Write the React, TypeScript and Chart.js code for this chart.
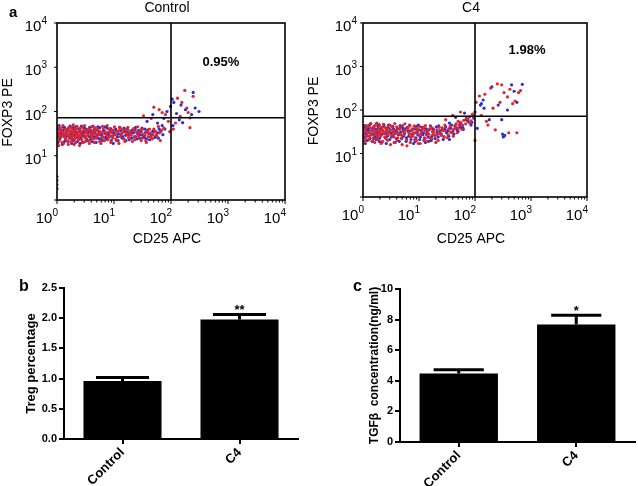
import React, { useEffect, useRef } from "react";
import { Chart, registerables } from "chart.js";

Chart.register(...registerables);

const FONT = '"Liberation Sans", Arial, Helvetica, sans-serif';
const RED = "#e0262c";
const BLUE = "#2a2fd0";

type Pt = [number, number];

// ---------- panel a : flow cytometry (CD25 APC vs FOXP3 PE) ----------
const decadeTicks = [1, 10, 100, 1000, 10000];
const gateCD25 = 100;
const gateFOXP3 = 72;
const controlPct = "0.95%";
const c4Pct = "1.98%";

const controlRed: Pt[] = [
  [1, 30], [1, 38], [1.05, 25], [1.1, 34], [1.1, 22], [1.15, 42], [1.2, 28], [1.25, 35], [1.3, 19], [1.3, 31],
  [1.4, 40], [1.4, 26], [1.5, 33], [1.55, 21], [1.6, 37], [1.7, 29], [1.75, 45], [1.8, 24], [1.9, 32], [2, 18],
  [2, 36], [2.1, 27], [2.2, 41], [2.3, 30], [2.4, 23], [2.5, 34], [2.6, 28], [2.7, 44], [2.8, 20], [3, 31],
  [3.1, 38], [3.2, 25], [3.4, 33], [3.6, 22], [3.8, 40], [4, 29], [4.2, 35], [4.4, 24], [4.6, 43], [4.8, 31],
  [5, 27], [5.3, 37], [5.6, 21], [6, 33], [6.3, 46], [6.6, 26], [7, 35], [7.4, 30], [7.8, 23], [8.2, 40],
  [8.6, 28], [9, 34], [9.5, 25], [10, 38], [10.5, 31], [11, 22], [12, 36], [12.5, 43], [13, 27], [14, 33],
  [15, 24], [16, 39], [17, 30], [18, 26], [19, 36], [20, 29], [22, 41], [23, 23], [25, 34], [27, 28],
  [29, 38], [31, 25], [33, 31], [36, 22], [38, 36], [40, 27], [43, 33], [47, 24], [50, 40], [55, 30],
  [60, 46], [65, 22], [1, 2.2], [1, 2.8],
  [1.03, 45], [1.07, 17], [1.13, 29], [1.17, 37], [1.23, 20], [1.27, 48], [1.33, 27], [1.38, 33], [1.43, 24], [1.48, 39],
  [1.53, 30], [1.58, 18], [1.63, 44], [1.68, 26], [1.73, 35], [1.78, 21], [1.83, 40], [1.88, 28], [1.93, 50], [1.98, 33],
  [2.03, 24], [2.08, 38], [2.13, 20], [2.18, 31], [2.25, 46], [2.35, 26], [2.42, 35], [2.48, 17], [2.55, 42], [2.63, 30],
  [2.72, 23], [2.85, 37], [2.95, 27], [3.05, 48], [3.15, 21], [3.28, 34], [3.45, 29], [3.55, 39], [3.7, 19], [3.85, 33],
  [3.95, 26], [4.1, 45], [4.3, 31], [4.5, 20], [4.7, 37], [4.9, 25], [5.1, 41], [5.4, 30], [5.7, 35], [5.9, 19],
  [6.2, 27], [6.5, 40], [6.8, 22], [7.2, 32], [7.6, 48], [8, 26], [8.4, 34], [8.8, 20], [9.2, 38], [9.7, 29],
  [10.2, 45], [10.8, 24], [11.5, 35], [12.2, 19], [13, 41], [13.5, 30], [14.5, 38], [15.5, 21], [16.5, 33], [17.5, 44],
  [18.5, 25], [19.5, 31], [21, 21], [22.5, 36], [24, 27], [26, 45], [28, 33], [30, 22], [32, 40], [35, 29],
  [37, 20], [39, 33], [42, 40], [45, 26], [48, 30], [53, 36], [57, 27], [63, 33], [68, 38], [75, 42],
  [33, 80], [45, 70], [50, 125], [62, 110], [70, 95], [80, 85], [90, 60], [110, 40], [130, 200], [145, 78],
  [155, 160], [175, 300], [190, 120], [215, 72], [215, 43], [245, 220], [120, 55], [95, 35], [200, 95],
];

const controlBlue: Pt[] = [
  [1, 33], [1.02, 27], [1.08, 40], [1.12, 24], [1.18, 36], [1.22, 30], [1.28, 45], [1.35, 21], [1.45, 34], [1.5, 28],
  [1.6, 42], [1.65, 25], [1.75, 32], [1.85, 38], [1.95, 22], [2.05, 30], [2.15, 35], [2.3, 26], [2.45, 40], [2.55, 19],
  [2.7, 33], [2.9, 28], [3, 43], [3.2, 36], [3.3, 24], [3.5, 31], [3.7, 27], [3.9, 37], [4.1, 21], [4.3, 33],
  [4.5, 39], [4.7, 26], [5, 30], [5.2, 45], [5.5, 34], [5.8, 24], [6.1, 29], [6.5, 38], [6.9, 32], [7.2, 26],
  [7.6, 42], [8, 30], [8.5, 36], [9, 22], [9.4, 28], [10, 33], [10.7, 40], [11.5, 27], [12, 31], [13, 37],
  [14, 25], [15, 42], [16, 29], [17, 34], [18.5, 23], [20, 32], [21, 38], [23, 27], [24, 44], [26, 31],
  [28, 25], [30, 35], [32, 29], [35, 40], [37, 24], [41, 32], [44, 27], [48, 36], [52, 26], [58, 33],
  [62, 40], [70, 48], [1, 1.8], [1, 3.4],
  [1.01, 41], [1.04, 20], [1.06, 31], [1.09, 48], [1.14, 26], [1.19, 33], [1.24, 18], [1.29, 38], [1.32, 29], [1.37, 43],
  [1.42, 23], [1.47, 31], [1.52, 37], [1.57, 21], [1.62, 29], [1.69, 47], [1.72, 34], [1.79, 26], [1.82, 19], [1.89, 43],
  [1.92, 31], [2.02, 39], [2.07, 25], [2.12, 45], [2.2, 33], [2.27, 21], [2.38, 29], [2.5, 37], [2.6, 25], [2.68, 47],
  [2.78, 31], [2.88, 20], [2.98, 35], [3.1, 27], [3.25, 40], [3.4, 22], [3.6, 35], [3.75, 44], [3.9, 24], [4.05, 30],
  [4.25, 47], [4.4, 27], [4.6, 34], [4.85, 20], [5.05, 38], [5.3, 25], [5.6, 43], [5.95, 31], [6.3, 22], [6.7, 36],
  [7, 45], [7.4, 24], [7.8, 33], [8.3, 27], [8.7, 41], [9.2, 34], [9.7, 19], [10.4, 30], [11, 37], [11.8, 22],
  [12.6, 44], [13.4, 31], [14.2, 27], [15.2, 35], [16.2, 22], [17.2, 40], [18, 30], [19.2, 36], [20.5, 25], [22, 33],
  [23.5, 39], [25, 24], [27, 37], [29, 30], [31, 42], [34, 26], [36, 34], [39, 38], [42, 23], [46, 30],
  [50, 35], [55, 29], [60, 25], [66, 36], [72, 30], [78, 40],
  [38, 60], [48, 85], [58, 55], [75, 70], [85, 100], [98, 130], [105, 190], [108, 48], [112, 160], [125, 90],
  [140, 65], [160, 56], [180, 110], [245, 270], [265, 120], [310, 100], [150, 140], [230, 85],
];

const c4Red: Pt[] = [
  [1, 28], [1.05, 36], [1.1, 22], [1.15, 44], [1.2, 31], [1.3, 25], [1.35, 39], [1.45, 19], [1.5, 33], [1.6, 27],
  [1.7, 47], [1.8, 23], [1.9, 35], [2, 29], [2.1, 17], [2.2, 40], [2.3, 32], [2.45, 24], [2.6, 37], [2.75, 20],
  [2.9, 30], [3, 45], [3.2, 26], [3.4, 34], [3.6, 18], [3.8, 29], [4, 41], [4.2, 23], [4.5, 36], [4.8, 27],
  [5, 16], [5.3, 32], [5.6, 48], [6, 21], [6.3, 38], [6.7, 28], [7, 18], [7.4, 34], [7.8, 25], [8.2, 43],
  [8.6, 30], [9, 20], [9.5, 36], [10, 26], [10.5, 17], [11, 31], [12, 40], [12.5, 23], [13, 34], [14, 19],
  [15, 28], [16, 37], [17, 22], [18, 31], [19.5, 26], [21, 35], [22, 20], [24, 30], [26, 39], [28, 24],
  [30, 33], [33, 27], [36, 42], [39, 30], [42, 36], [46, 48], [50, 38], [55, 52],
  [1.02, 38], [1.07, 19], [1.12, 33], [1.17, 26], [1.22, 42], [1.27, 21], [1.32, 30], [1.38, 48], [1.42, 27], [1.47, 36],
  [1.52, 23], [1.57, 41], [1.62, 18], [1.67, 32], [1.72, 28], [1.77, 50], [1.83, 25], [1.87, 38], [1.92, 21], [1.97, 44],
  [2.03, 32], [2.12, 26], [2.18, 36], [2.25, 19], [2.33, 47], [2.4, 29], [2.5, 40], [2.57, 22], [2.68, 33], [2.8, 27],
  [2.95, 37], [3.1, 16], [3.25, 42], [3.45, 30], [3.55, 24], [3.7, 49], [3.9, 35], [4.1, 20], [4.35, 29], [4.6, 38],
  [4.9, 23], [5.1, 44], [5.4, 27], [5.7, 34], [6.1, 15], [6.5, 31], [6.9, 43], [7.2, 24], [7.6, 37], [8, 29],
  [8.4, 21], [8.8, 39], [9.2, 33], [9.7, 17], [10.2, 42], [10.8, 28], [11.5, 36], [12.2, 20], [13, 44], [13.5, 27],
  [14.5, 33], [15.5, 23], [16.5, 41], [17.5, 27], [18.5, 35], [20, 18], [21.5, 28], [23, 40], [25, 26], [27, 34],
  [29, 45], [32, 23], [34, 37], [37, 31], [41, 25], [44, 41], [48, 30], [52, 44], [58, 36], [63, 58],
  [68, 48], [75, 62], [85, 56], [92, 74], [1, 22], [1, 44],
  [30, 60], [40, 75], [50, 55], [55, 90], [60, 45], [70, 65], [80, 50], [90, 80], [95, 70], [100, 20],
  [105, 150], [120, 210], [130, 75], [150, 230], [160, 55], [170, 45], [190, 320], [210, 110], [230, 35], [250, 400],
  [280, 150], [300, 380], [330, 250], [380, 200], [420, 300], [470, 140], [520, 160], [560, 30], [600, 250], [400, 30],
  [650, 280],
];

const c4Blue: Pt[] = [
  [1, 32], [1.03, 24], [1.08, 40], [1.12, 29], [1.2, 20], [1.25, 35], [1.3, 45], [1.4, 27], [1.5, 38], [1.55, 22],
  [1.65, 31], [1.75, 26], [1.85, 42], [1.95, 19], [2.05, 34], [2.2, 28], [2.35, 46], [2.5, 23], [2.65, 33], [2.8, 39],
  [3, 21], [3.15, 30], [3.35, 25], [3.5, 37], [3.75, 18], [4, 32], [4.3, 27], [4.6, 44], [4.9, 22], [5.2, 35],
  [5.5, 29], [5.9, 19], [6.2, 40], [6.6, 25], [7, 33], [7.5, 28], [8, 17], [8.4, 37], [8.8, 23], [9.3, 31],
  [9.8, 45], [10.3, 21], [11, 34], [11.7, 27], [12.3, 38], [13, 18], [13.8, 29], [14.5, 24], [15.5, 36], [16.5, 20],
  [17.5, 32], [19, 27], [20.5, 41], [22, 24], [23.5, 33], [25, 28], [27, 21], [29, 36], [31, 30], [34, 25],
  [37, 38], [40, 32], [44, 44], [48, 35], [53, 46], [60, 40],
  [1.01, 27], [1.05, 44], [1.1, 17], [1.14, 35], [1.18, 25], [1.23, 39], [1.28, 30], [1.33, 22], [1.37, 49], [1.43, 33],
  [1.48, 19], [1.53, 28], [1.58, 42], [1.63, 24], [1.7, 36], [1.73, 21], [1.8, 31], [1.88, 27], [1.93, 46], [2, 23],
  [2.08, 38], [2.15, 18], [2.28, 33], [2.4, 41], [2.55, 29], [2.6, 17], [2.72, 25], [2.85, 45], [2.95, 31], [3.05, 36],
  [3.2, 24], [3.4, 42], [3.6, 28], [3.8, 33], [3.95, 22], [4.15, 38], [4.45, 19], [4.7, 31], [5, 40], [5.3, 25],
  [5.65, 37], [6, 23], [6.4, 33], [6.8, 45], [7.2, 21], [7.7, 36], [8.2, 30], [8.6, 19], [9, 42], [9.5, 27],
  [10, 35], [10.6, 24], [11.3, 40], [12, 30], [12.8, 22], [13.5, 37], [14.2, 33], [15, 19], [16, 43], [17, 25],
  [18, 37], [19.5, 22], [21, 31], [22.5, 43], [24, 29], [26, 35], [28, 24], [30, 41], [33, 33], [35, 21],
  [38, 45], [42, 28], [46, 39], [50, 32], [56, 50], [62, 36], [70, 60], [80, 70], [88, 52], [95, 65],
  [35, 50], [45, 68], [55, 40], [65, 85], [75, 55], [85, 45], [100, 90], [110, 38], [125, 130], [130, 140],
  [140, 170], [145, 110], [200, 340], [260, 130], [300, 60], [320, 24], [340, 26], [380, 100], [450, 380], [500, 270],
  [560, 150], [700, 390], [310, 28], [180, 60],
];

// ---------- panels b & c : bar charts ----------
const groups = ["Control", "C4"];
const tregMean = [0.96, 1.98];
const tregErr = [0.06, 0.08];
const tregStars = ["", "**"];
const tregTicks = { max: 2.5, step: 0.5, decimals: 1 };

const tgfMean = [4.47, 7.68];
const tgfErr = [0.25, 0.6];
const tgfStars = ["", "*"];
const tgfTicks = { max: 10, step: 2, decimals: 0 };

type Area = { left: number; top: number; right: number; bottom: number };

function powLabel(ctx: CanvasRenderingContext2D, right: number, baseline: number, exp: number) {
  ctx.font = `15px ${FONT}`;
  const wb = ctx.measureText("10").width;
  ctx.font = `10px ${FONT}`;
  const we = ctx.measureText(String(exp)).width;
  ctx.textAlign = "left";
  ctx.textBaseline = "alphabetic";
  ctx.font = `15px ${FONT}`;
  ctx.fillText("10", right - we - wb, baseline);
  ctx.font = `10px ${FONT}`;
  ctx.fillText(String(exp), right - we, baseline - 7);
}

interface FlowProps {
  left: number;
  width: number;
  height: number;
  area: Area;
  red: Pt[];
  blue: Pt[];
  title: string;
  pct: string;
  pctAt: Pt;
  yLabelGap: number;
  letter?: string;
}

function FlowPanel(p: FlowProps) {
  const ref = useRef<HTMLCanvasElement>(null);
  useEffect(() => {
    const { area, width, height } = p;
    const decor = {
      id: "flowDecor",
      afterDraw(chart: any) {
        const { ctx, chartArea: a } = chart;
        const xs = chart.scales.x;
        const ys = chart.scales.y;
        ctx.save();
        ctx.strokeStyle = "#000";
        ctx.fillStyle = "#000";
        ctx.lineWidth = 1.6;
        ctx.strokeRect(a.left, a.top, a.right - a.left, a.bottom - a.top);
        const gx = xs.getPixelForValue(gateCD25);
        const gy = ys.getPixelForValue(gateFOXP3);
        ctx.beginPath();
        ctx.moveTo(gx, a.top);
        ctx.lineTo(gx, a.bottom);
        ctx.moveTo(a.left, gy);
        ctx.lineTo(a.right, gy);
        ctx.stroke();
        ctx.lineWidth = 1;
        ctx.beginPath();
        decadeTicks.forEach((d, k) => {
          const steps = k < decadeTicks.length - 1 ? 9 : 1;
          for (let i = 1; i <= steps; i++) {
            const px = xs.getPixelForValue(d * i);
            const len = i === 1 ? 4 : 2.5;
            ctx.moveTo(px, a.bottom);
            ctx.lineTo(px, a.bottom + len);
          }
          const py = ys.getPixelForValue(d);
          ctx.moveTo(a.left - 3, py);
          ctx.lineTo(a.left, py);
        });
        ctx.stroke();
        decadeTicks.forEach((d, k) => {
          powLabel(ctx, xs.getPixelForValue(d) + 1, a.bottom + 23, k);
          if (k > 0) powLabel(ctx, a.left - p.yLabelGap, ys.getPixelForValue(d) + 8, k);
        });
        const cx = (a.left + a.right) / 2 - 4;
        ctx.textAlign = "center";
        ctx.textBaseline = "middle";
        ctx.font = `14px ${FONT}`;
        ctx.fillText(p.title, cx, 8);
        ctx.textBaseline = "alphabetic";
        ctx.fillText("CD25 APC", cx, height - 2);
        ctx.save();
        ctx.translate(a.left - 49, (a.top + a.bottom) / 2 + 1);
        ctx.rotate(-Math.PI / 2);
        ctx.textBaseline = "middle";
        ctx.fillText("FOXP3 PE", 0, 0);
        ctx.restore();
        ctx.font = `bold 13px ${FONT}`;
        ctx.textBaseline = "middle";
        ctx.fillText(p.pct, xs.getPixelForValue(p.pctAt[0]), ys.getPixelForValue(p.pctAt[1]));
        if (p.letter) {
          ctx.font = `bold 15px ${FONT}`;
          ctx.textAlign = "left";
          ctx.textBaseline = "alphabetic";
          ctx.fillText(p.letter, 9, 17);
        }
        ctx.restore();
      },
    };
    const chart = new Chart(ref.current!, {
      type: "scatter",
      data: {
        datasets: [
          {
            data: p.red.map(([x, y]) => ({ x, y })),
            backgroundColor: RED,
            borderWidth: 0,
            pointRadius: 1.6,
          },
          {
            data: p.blue.map(([x, y]) => ({ x, y })),
            backgroundColor: BLUE,
            borderWidth: 0,
            pointRadius: 1.6,
          },
        ],
      },
      options: {
        responsive: false,
        animation: false,
        events: [],
        layout: {
          padding: { left: area.left, top: area.top, right: width - area.right, bottom: height - area.bottom },
        },
        plugins: { legend: { display: false }, tooltip: { enabled: false } },
        scales: {
          x: { type: "logarithmic", min: 1, max: 10000, display: false },
          y: { type: "logarithmic", min: 1, max: 10000, display: false },
        },
      },
      plugins: [decor],
    } as any);
    return () => chart.destroy();
  }, []);
  return (
    <canvas
      ref={ref}
      width={p.width}
      height={p.height}
      style={{ position: "absolute", left: p.left, top: 0, width: p.width, height: p.height }}
    />
  );
}

interface BarProps {
  left: number;
  top: number;
  width: number;
  height: number;
  area: Area;
  means: number[];
  errs: number[];
  stars: string[];
  ticks: { max: number; step: number; decimals: number };
  yTitle: string;
  titleSize: number;
  titlePad: number;
  letter: string;
  letterX: number;
  capRatio: number;
}

function BarPanel(p: BarProps) {
  const ref = useRef<HTMLCanvasElement>(null);
  useEffect(() => {
    const { area, width, height } = p;
    const errPlugin = {
      id: "errBars",
      afterDatasetsDraw(chart: any) {
        const { ctx } = chart;
        const ys = chart.scales.y;
        const meta = chart.getDatasetMeta(0);
        ctx.save();
        ctx.strokeStyle = "#000";
        ctx.fillStyle = "#000";
        ctx.lineWidth = 3;
        meta.data.forEach((el: any, i: number) => {
          const topY = ys.getPixelForValue(p.means[i] + p.errs[i]);
          const base = ys.getPixelForValue(p.means[i]);
          const half = (el.width * p.capRatio) / 2;
          ctx.beginPath();
          ctx.moveTo(el.x, base);
          ctx.lineTo(el.x, topY);
          ctx.moveTo(el.x - half, topY);
          ctx.lineTo(el.x + half, topY);
          ctx.stroke();
          if (p.stars[i]) {
            ctx.font = `bold 13px ${FONT}`;
            ctx.textAlign = "center";
            ctx.textBaseline = "alphabetic";
            ctx.fillText(p.stars[i], el.x, topY - 0.5);
          }
        });
        ctx.font = `bold 16px ${FONT}`;
        ctx.textAlign = "left";
        ctx.textBaseline = "alphabetic";
        ctx.fillText(p.letter, p.letterX, 46);
        ctx.restore();
      },
    };
    const chart = new Chart(ref.current!, {
      type: "bar",
      data: {
        labels: groups,
        datasets: [
          {
            data: p.means,
            backgroundColor: "#000",
            borderWidth: 0,
            barPercentage: 0.667,
            categoryPercentage: 1,
          },
        ],
      },
      options: {
        responsive: false,
        animation: false,
        events: [],
        layout: { padding: { left: 0, top: area.top, right: width - area.right, bottom: 0 } },
        plugins: { legend: { display: false }, tooltip: { enabled: false } },
        scales: {
          x: {
            grid: { display: true, drawOnChartArea: false, offset: false, color: "#000", lineWidth: 2, tickLength: 5 },
            border: { display: true, color: "#000", width: 2 },
            ticks: {
              color: "#000",
              font: { family: FONT, size: 13, weight: "bold" },
              minRotation: 45,
              maxRotation: 45,
              padding: 1,
            },
            afterFit: (s: any) => {
              s.height = height - area.bottom;
            },
          },
          y: {
            min: 0,
            max: p.ticks.max,
            ticks: {
              stepSize: p.ticks.step,
              color: "#000",
              font: { family: FONT, size: 11, weight: "bold" },
              padding: 2,
              callback: (v: any) => Number(v).toFixed(p.ticks.decimals),
            },
            grid: { display: true, drawOnChartArea: false, color: "#000", lineWidth: 2, tickLength: 5 },
            border: { display: true, color: "#000", width: 2 },
            title: {
              display: true,
              text: p.yTitle,
              color: "#000",
              font: { family: FONT, size: p.titleSize, weight: "bold" },
              padding: { top: p.titlePad, bottom: 0 },
            },
            afterFit: (s: any) => {
              s.width = area.left;
            },
          },
        },
      },
      plugins: [errPlugin],
    } as any);
    return () => chart.destroy();
  }, []);
  return (
    <canvas
      ref={ref}
      width={p.width}
      height={p.height}
      style={{ position: "absolute", left: p.left, top: p.top, width: p.width, height: p.height }}
    />
  );
}

export default function App() {
  return (
    <div style={{ position: "absolute", left: 0, top: 0, width: 638, height: 486, background: "#fff", overflow: "hidden" }}>
      <FlowPanel
        left={0}
        width={300}
        height={245}
        area={{ left: 57, top: 23, right: 285, bottom: 200 }}
        red={controlRed}
        blue={controlBlue}
        title="Control"
        pct={controlPct}
        pctAt={[750, 1300]}
        yLabelGap={10}
        letter="a"
      />
      <FlowPanel
        left={300}
        width={338}
        height={245}
        area={{ left: 63, top: 23, right: 287, bottom: 197 }}
        red={c4Red}
        blue={c4Blue}
        title="C4"
        pct={c4Pct}
        pctAt={[850, 2400]}
        yLabelGap={6}
      />
      <BarPanel
        left={0}
        top={245}
        width={319}
        height={241}
        area={{ left: 64, top: 43, right: 298, bottom: 194 }}
        means={tregMean}
        errs={tregErr}
        stars={tregStars}
        ticks={tregTicks}
        yTitle="Treg percentage"
        titleSize={13}
        titlePad={24}
        letter="b"
        letterX={19}
        capRatio={0.68}
      />
      <BarPanel
        left={319}
        top={245}
        width={319}
        height={241}
        area={{ left: 81, top: 44, right: 316, bottom: 197 }}
        means={tgfMean}
        errs={tgfErr}
        stars={tgfStars}
        ticks={tgfTicks}
        yTitle="TGFβ  concentration(ng/ml)"
        titleSize={12}
        titlePad={48}
        letter="c"
        letterX={34}
        capRatio={0.64}
      />
    </div>
  );
}
